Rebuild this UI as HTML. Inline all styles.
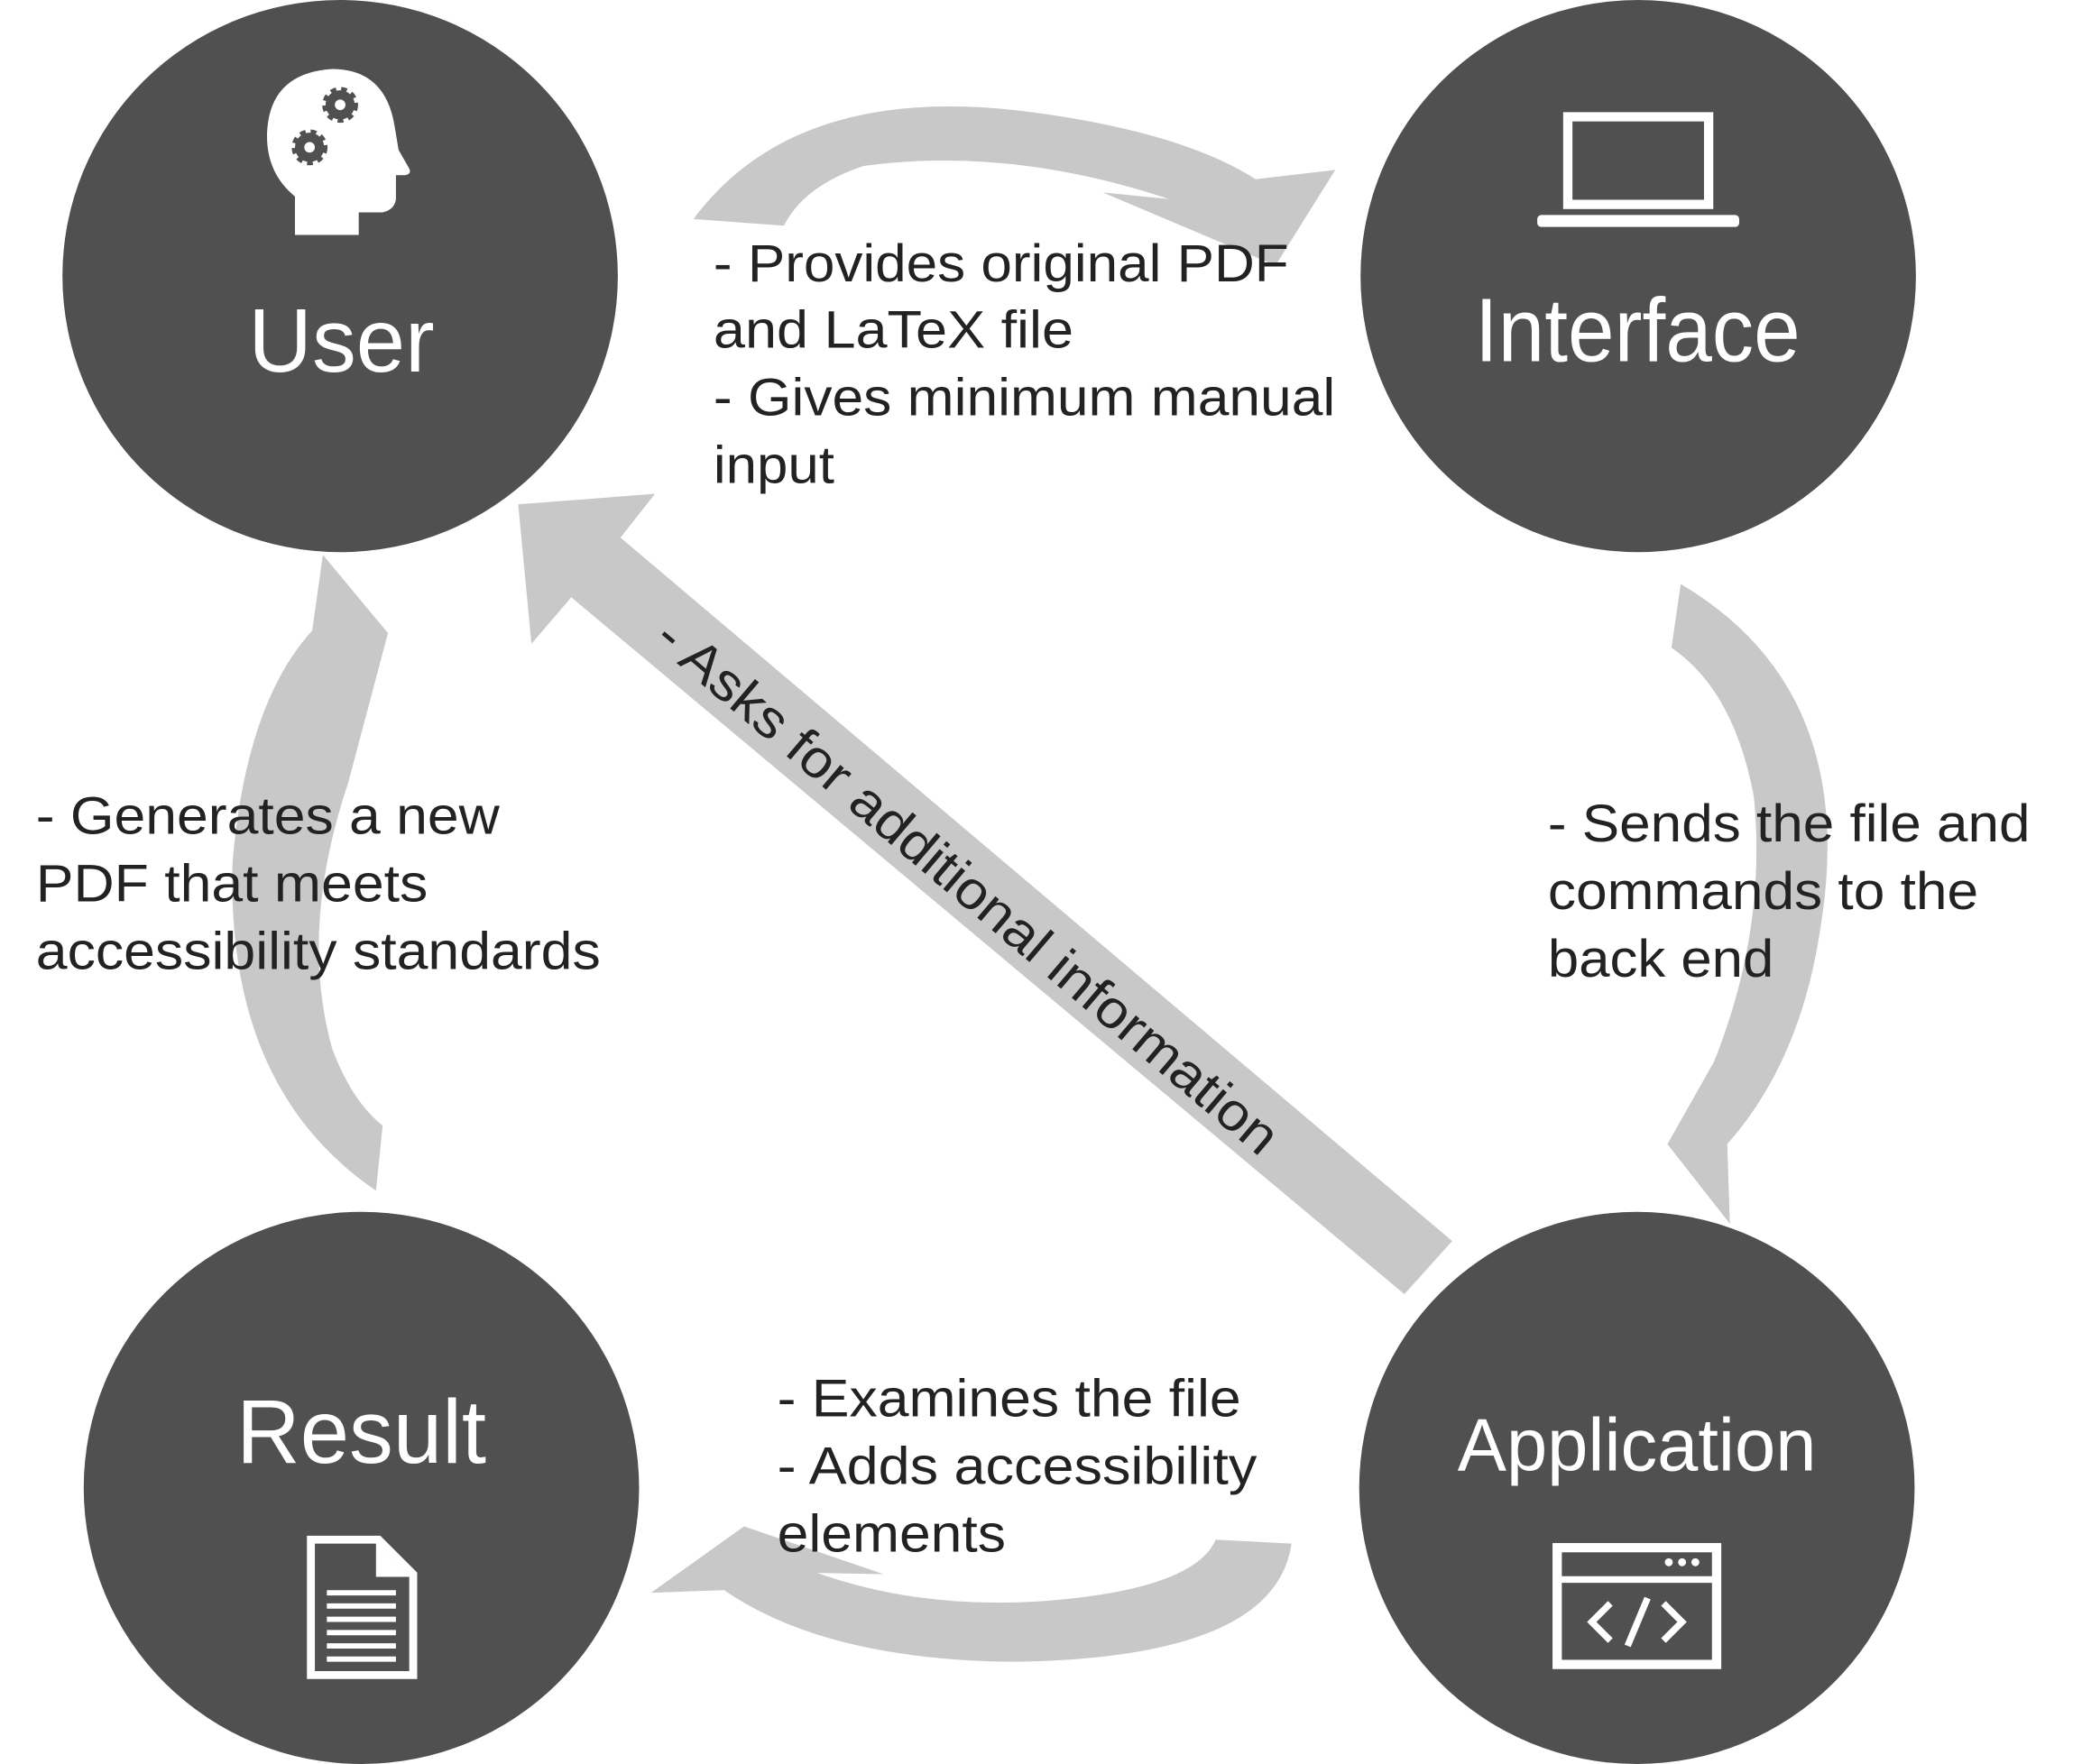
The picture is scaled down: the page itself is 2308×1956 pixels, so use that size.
<!DOCTYPE html>
<html><head><meta charset="utf-8"><style>html,body{margin:0;padding:0;background:#fff}svg{display:block}</style></head>
<body>
<svg width="2308" height="1956" viewBox="0 0 1567 1329" preserveAspectRatio="none" xmlns="http://www.w3.org/2000/svg" font-family="Liberation Sans, sans-serif">
<g fill="#c8c8c8">
<path d="M522,165 Q600,60 780,85 Q890,100 945,135 L1005,128 L960,200 L830,145 L880,150 Q760,110 650,125 Q605,140 590,170 Z"/>
<path d="M972,1163 Q960,1250 760,1252 Q620,1250 545,1198 L490,1200 L560,1150 L665,1186 L615,1185 Q700,1215 800,1205 Q900,1195 915,1160 Z"/>
<path d="M1265,440 Q1400,520 1370,700 Q1355,800 1300,862 L1302,922 L1255,862 L1290,800 Q1330,700 1320,600 Q1305,520 1258,488 Z"/>
<path d="M283,897 Q170,820 175,650 Q185,530 235,475 L243,418 L292,477 L262,590 Q225,700 250,790 Q265,830 288,848 Z"/>
<path d="M1093,935 L467,405 L493,372 L390,380 L400,485 L430,450 L1057,975 Z"/>
</g>
<g fill="#505050">
<ellipse cx="256" cy="208" rx="209" ry="208"/>
<ellipse cx="1233" cy="208" rx="209" ry="208"/>
<ellipse cx="272" cy="1121" rx="209" ry="208"/>
<ellipse cx="1232" cy="1121" rx="209" ry="208"/>
</g>
<g fill="#fff">
<path d="M222,177 L222,148 Q200,130 201,100 Q203,55 250,52 Q290,52 297,95 L300,113 L308,127 Q310,131 305,132 L298,132 L298,150 Q297,158 288,160 L270,160 L270,177 Z"/>
</g>
<g fill="#505050" stroke="#505050" stroke-width="5" stroke-dasharray="4 3.5">
<circle cx="256" cy="79" r="11"/>
<circle cx="233" cy="111" r="11"/>
</g>
<g fill="#fff"><circle cx="256" cy="79" r="4"/><circle cx="233" cy="111" r="4"/></g>
<g fill="none" stroke="#fff" stroke-width="7">
<rect x="1180" y="88" width="106" height="66"/>
</g>
<rect x="1157" y="162" width="152" height="9" rx="3" fill="#fff"/>
<path d="M234,1160 L285,1160 L311,1186 L311,1262 L234,1262 Z" fill="none" stroke="#fff" stroke-width="6"/>
<path d="M283,1162 L283,1188 L309,1188 Z" fill="#fff"/>
<g stroke="#fff" stroke-width="4"><line x1="246" y1="1200" x2="298" y2="1200"/><line x1="246" y1="1210" x2="298" y2="1210"/><line x1="246" y1="1220" x2="298" y2="1220"/><line x1="246" y1="1230" x2="298" y2="1230"/><line x1="246" y1="1240" x2="298" y2="1240"/><line x1="246" y1="1250" x2="298" y2="1250"/></g>
<rect x="1172" y="1166" width="120" height="88" fill="none" stroke="#fff" stroke-width="7"/>
<line x1="1172" y1="1190" x2="1292" y2="1190" stroke="#fff" stroke-width="5"/>
<g fill="#fff"><circle cx="1256" cy="1177" r="3"/><circle cx="1266" cy="1177" r="3"/><circle cx="1276" cy="1177" r="3"/></g>
<g fill="none" stroke="#fff" stroke-width="5"><path d="M1212,1208 L1198,1222 L1212,1236"/><path d="M1252,1208 L1266,1222 L1252,1236"/><path d="M1240,1204 L1225,1240"/></g>
<g fill="#fff" font-size="68">
<text x="187" y="280" textLength="140" lengthAdjust="spacingAndGlyphs">User</text>
<text x="1110" y="272" textLength="245" lengthAdjust="spacingAndGlyphs">Interface</text>
<text x="178" y="1102" textLength="188" lengthAdjust="spacingAndGlyphs">Result</text>
<text x="1097" y="1108" font-size="56" textLength="270" lengthAdjust="spacingAndGlyphs">Application</text>
</g>
<g fill="#222" font-size="40">
<text x="537" y="212" textLength="433" lengthAdjust="spacingAndGlyphs">- Provides original PDF</text>
<text x="537" y="262" textLength="271" lengthAdjust="spacingAndGlyphs">and LaTeX file</text>
<text x="537" y="313" textLength="468" lengthAdjust="spacingAndGlyphs">- Gives minimum manual</text>
<text x="537" y="364" textLength="91" lengthAdjust="spacingAndGlyphs">input</text>
<text x="27" y="628" textLength="349" lengthAdjust="spacingAndGlyphs">- Generates a new</text>
<text x="27" y="679" textLength="295" lengthAdjust="spacingAndGlyphs">PDF that meets</text>
<text x="27" y="730" textLength="425" lengthAdjust="spacingAndGlyphs">accessibility standards</text>
<text x="1165" y="634" textLength="363" lengthAdjust="spacingAndGlyphs">- Sends the file and</text>
<text x="1165" y="685" textLength="324" lengthAdjust="spacingAndGlyphs">commands to the</text>
<text x="1165" y="736" textLength="170" lengthAdjust="spacingAndGlyphs">back end</text>
<text x="585" y="1067" textLength="349" lengthAdjust="spacingAndGlyphs">- Examines the file</text>
<text x="585" y="1118" textLength="361" lengthAdjust="spacingAndGlyphs">- Adds accessibility</text>
<text x="585" y="1169" textLength="172" lengthAdjust="spacingAndGlyphs">elements</text>
<text x="0" y="0" text-anchor="middle" transform="translate(728,668) rotate(40.3) translate(0,13)" textLength="600" lengthAdjust="spacingAndGlyphs">- Asks for additional information</text>
</g>
</svg>
</body></html>
